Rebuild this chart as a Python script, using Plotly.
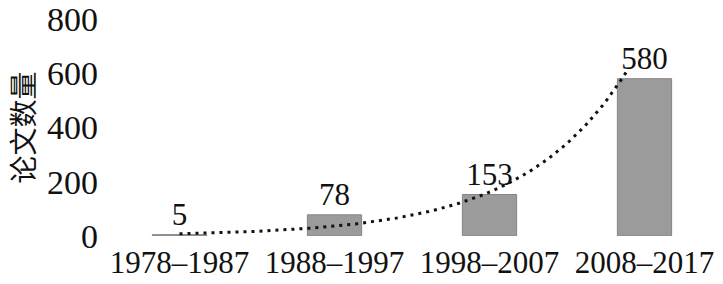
import numpy as np
import plotly.graph_objects as go

categories = ["1978–1987", "1988–1997", "1998–2007", "2008–2017"]
paper_counts = [5, 78, 153, 580]
y_ticks = [0, 200, 400, 600, 800]
y_title = "论文数量"

idx = np.arange(len(categories))

# Exponential trendline (least-squares fit on log values, like a spreadsheet trendline)
b, ln_a = np.polyfit(idx + 1, np.log(paper_counts), 1)
tx = np.linspace(0, 2.9, 120)
ty = np.exp(ln_a) * np.exp(b * (tx + 1))

font_family = "Times New Roman, Liberation Serif, serif"
label_font = dict(family=font_family, size=31, color="#111111")
ytick_font = dict(family=font_family, size=34, color="#111111")

fig = go.Figure()
fig.add_trace(go.Bar(
    x=idx, y=paper_counts, width=0.35,
    marker=dict(color="#9b9b9b", line=dict(color="#858585", width=1)),
    text=[str(v) for v in paper_counts], textposition="outside",
    textfont=label_font, outsidetextfont=label_font,
    constraintext="none", cliponaxis=False, showlegend=False,
))
fig.add_trace(go.Scatter(
    x=tx, y=ty, mode="lines",
    line=dict(color="#111111", width=3, dash="3px,5px"),
    showlegend=False, cliponaxis=False,
))

fig.update_layout(
    width=723, height=284,
    margin=dict(l=102, r=1, t=16, b=48),
    paper_bgcolor="white", plot_bgcolor="white",
    font=dict(family=font_family, size=31, color="#111111"),
    bargap=0.65,
)
fig.add_annotation(
    text=y_title, xref="paper", yref="paper", x=0, y=0.5,
    xanchor="center", yanchor="middle", xshift=-81, textangle=-90,
    showarrow=False, borderpad=0,
    font=dict(family="Noto Sans CJK SC", size=28, color="#111111"),
)
fig.update_xaxes(
    range=[-0.5, 3.5], tickvals=list(idx), ticktext=categories,
    showgrid=False, zeroline=False, showline=False, ticks="",
    ticklabelstandoff=5, ticklabeloverflow="allow",
    tickfont=label_font,
)
fig.update_yaxes(
    range=[0, 800], tickvals=y_ticks,
    showgrid=False, zeroline=False, showline=False, ticks="",
    ticklabelstandoff=3, ticklabeloverflow="allow",
    tickfont=ytick_font,
)

fig.write_html("out.html")
